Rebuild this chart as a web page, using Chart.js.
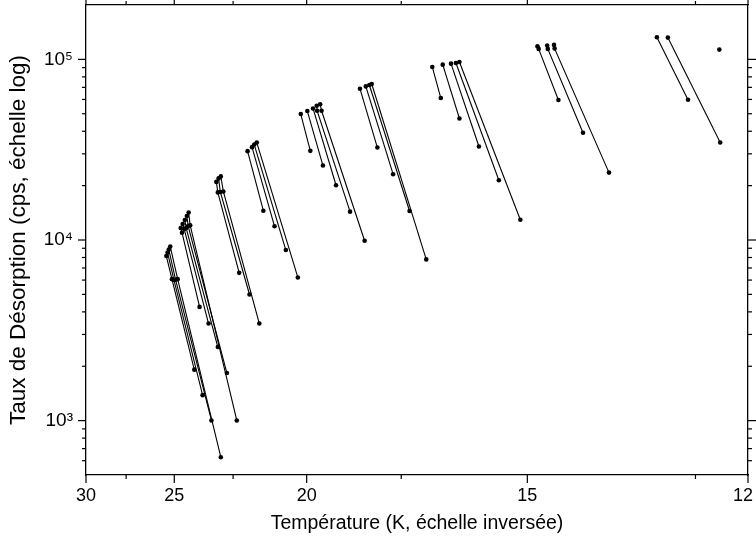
<!DOCTYPE html>
<html><head><meta charset="utf-8">
<script src="https://cdn.jsdelivr.net/npm/chart.js@4.4.0/dist/chart.umd.min.js"></script>
<style>html,body{margin:0;padding:0;background:#fff}#wrap{width:756px;height:545px;position:relative}</style>
</head><body><div id="wrap"><canvas id="c"></canvas></div>
<script>
// Axis ticks (temperatures in K, rates in cps)
const xMajorTemps = [30, 25, 20, 15, 12];
const xMinorTemps = [27.5, 22.5, 17.5, 12.6];
const yMajorRates = [1e3, 1e4, 1e5];
const yMinorRates = [600, 700, 800, 900, 2000, 3000, 4000, 5000, 6000, 7000, 8000, 9000,
  20000, 30000, 40000, 50000, 60000, 70000, 80000, 90000];
const tempLimits = [30, 12];
const rateLimits = [500, 200000];

// Series: each inner array is one desorption run (temperature K, rate cps)
const group1Temps = [[25.38, 25.11, 24.09], [25.32, 25.02, 23.73], [25.26, 24.94, 23.36], [25.19, 24.84, 22.98]];
const group1Rates = [[8150, 6070, 1915], [8520, 6030, 1384], [8850, 6030, 1002], [9200, 6070, 627]];
const group2Temps = [[24.70, 24.64, 23.86], [24.61, 24.54, 23.48], [24.51, 24.45, 23.10], [24.42, 24.36, 22.74], [24.34, 24.27, 22.36]];
const group2Rates = [[11650, 10970, 4262], [12260, 11500, 3447], [12900, 11650, 2555], [13580, 11950, 1834], [14200, 12060, 1002]];
const group3Temps = [[23.16, 23.10, 22.27], [23.07, 23.00, 21.89], [22.98, 22.88, 21.54]];
const group3Rates = [[20970, 18340, 6579], [21930, 18450, 4992], [22500, 18570, 3447]];
const group4Temps = [[21.96, 21.40], [21.80, 21.02], [21.72, 20.65], [21.63, 20.27]];
const group4Rates = [[31030, 14530], [32670, 11910], [33770, 8795], [34640, 6205]];
const group5Temps = [[20.18, 19.89], [19.98, 19.52], [19.81, 19.15], [19.70, 19.69, 18.77], [19.60, 19.56, 18.39]];
const group5Rates = [[49800, 31150], [51740, 25830], [53490, 20100], [55370, 51940, 14350], [56440, 51940, 9904]];
const group6Temps = [[18.51, 18.07], [18.36, 17.69], [18.27, 17.31], [18.21, 16.94]];
const group6Rates = [[68800, 32500], [70870, 23140], [72150, 14480], [73070, 7807]];
const group7Temps = [[16.81, 16.63], [16.59, 16.25], [16.42, 15.87], [16.32, 15.50], [16.25, 15.12]];
const group7Rates = [[90790, 61090], [93500, 47080], [94710, 32920], [95550, 21430], [96790, 12950]];
const group8Temps = [[14.83, 14.81, 14.49], [14.67, 14.66, 14.11], [14.56, 14.55, 13.73]];
const group8Rates = [[118200, 114300, 59550], [119200, 114300, 39220], [120300, 114700, 23610]];
const group9Temps = [[13.08, 12.69], [12.94, 12.31], [12.32]];
const group9Rates = [[132600, 59790], [132000, 34640], [113300]];

const allTemps = [group1Temps, group2Temps, group3Temps, group4Temps, group5Temps, group6Temps, group7Temps, group8Temps, group9Temps];
const allRates = [group1Rates, group2Rates, group3Rates, group4Rates, group5Rates, group6Rates, group7Rates, group8Rates, group9Rates];

const inv = t => 1000 / t;   // inverted temperature axis (1000/T)
const FONT = '"Liberation Sans", Arial, Helvetica, sans-serif';
const supDigits = {'0':'⁰','1':'¹','2':'²','3':'³','4':'⁴','5':'⁵','6':'⁶','7':'⁷','8':'⁸','9':'⁹'};

const datasets = [];
allTemps.forEach((grp, g) => {
  grp.forEach((temps, s) => {
    datasets.push({
      data: temps.map((t, i) => ({x: inv(t), y: allRates[g][s][i]})),
      borderColor: '#000', backgroundColor: '#000',
      borderWidth: 1.1, pointRadius: 2.3, pointHoverRadius: 2.3,
      pointBorderWidth: 0, pointBackgroundColor: '#000',
      showLine: true, tension: 0
    });
  });
});

const tickMarks = {
  id: 'tickMarks',
  afterDraw(chart) {
    const ctx = chart.ctx;
    const {left, right, top, bottom} = chart.chartArea;
    const xs = chart.scales.x, ys = chart.scales.y;
    ctx.save();
    ctx.strokeStyle = '#000';
    ctx.lineWidth = 1.2;
    const line = (x1, y1, x2, y2) => { ctx.beginPath(); ctx.moveTo(x1, y1); ctx.lineTo(x2, y2); ctx.stroke(); };
    const MAJ = 8, MIN = 4;
    xMajorTemps.forEach(t => { const p = xs.getPixelForValue(inv(t)); line(p, bottom, p, bottom + MAJ); line(p, top, p, top - MAJ); });
    xMinorTemps.forEach(t => { const p = xs.getPixelForValue(inv(t)); line(p, bottom, p, bottom + MIN); line(p, top, p, top - MIN); });
    yMajorRates.forEach(v => { const p = ys.getPixelForValue(v); line(left, p, left - MAJ, p); line(right, p, right + MAJ, p); });
    yMinorRates.forEach(v => { const p = ys.getPixelForValue(v); line(left, p, left - MIN, p); line(right, p, right + MIN, p); });
    ctx.restore();
  }
};

const borderOpt = {display: true, color: '#000', width: 1.3};
const noPad = sc => { sc.paddingTop = 0; sc.paddingBottom = 0; sc.paddingLeft = 0; sc.paddingRight = 0; };

new Chart(document.getElementById('c'), {
  type: 'scatter',
  data: {datasets},
  options: {
    responsive: true, maintainAspectRatio: false, animation: false,
    layout: {padding: 0},
    plugins: {legend: {display: false}, tooltip: {enabled: false}},
    scales: {
      x: {
        type: 'linear', position: 'bottom',
        min: inv(tempLimits[0]), max: inv(tempLimits[1]),
        border: borderOpt,
        grid: {display: false, drawTicks: false},
        afterBuildTicks: sc => { sc.ticks = xMajorTemps.map(t => ({value: inv(t)})); },
        afterFit: sc => { sc.height = 70; noPad(sc); },
        ticks: {
          padding: 10, color: '#000', maxRotation: 0, autoSkip: false,
          font: {family: FONT, size: 18},
          // keep the last label inside the canvas (trailing spaces nudge it left)
          callback: (v, i, arr) => String(Math.round(1000 / v)) + (i === arr.length - 1 ? '  ' : '')
        },
        title: {display: true, text: 'Température (K, échelle inversée)', color: '#000',
          font: {family: FONT, size: 19.5}, padding: {top: 0, bottom: 10}}
      },
      x2: {
        type: 'linear', position: 'top',
        min: inv(tempLimits[0]), max: inv(tempLimits[1]),
        border: borderOpt,
        grid: {display: false, drawTicks: false},
        ticks: {display: false},
        afterFit: sc => { sc.height = 5; noPad(sc); }
      },
      y: {
        type: 'logarithmic', position: 'left',
        min: rateLimits[0], max: rateLimits[1],
        border: borderOpt,
        grid: {display: false, drawTicks: false},
        afterBuildTicks: sc => { sc.ticks = yMajorRates.map(v => ({value: v})); },
        afterFit: sc => { sc.width = 86; noPad(sc); },
        ticks: {
          padding: 13, color: '#000', autoSkip: false,
          font: {family: FONT, size: 19},
          callback: v => '10' + String(Math.round(Math.log10(v))).split('').map(d => supDigits[d]).join('')
        },
        title: {display: true, text: 'Taux de Désorption (cps, échelle log)', color: '#000',
          font: {family: FONT, size: 22.5}, padding: {top: 5, bottom: 0}}
      },
      y2: {
        type: 'logarithmic', position: 'right',
        min: rateLimits[0], max: rateLimits[1],
        border: borderOpt,
        grid: {display: false, drawTicks: false},
        ticks: {display: false},
        afterFit: sc => { sc.width = 8; noPad(sc); }
      }
    }
  },
  plugins: [tickMarks]
});
</script>
</body></html>
